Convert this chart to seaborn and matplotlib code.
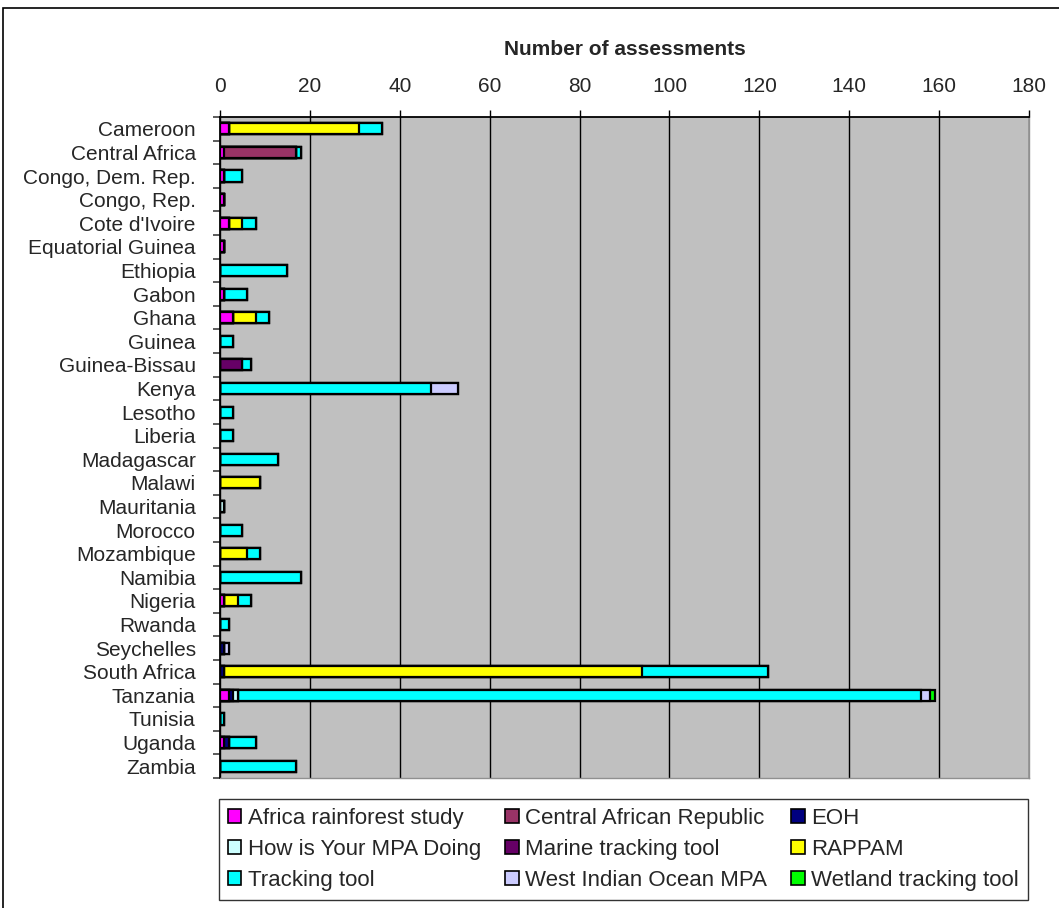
import matplotlib
matplotlib.use("Agg")
import matplotlib.pyplot as plt
from matplotlib.patches import Patch, Rectangle
from matplotlib.ticker import MultipleLocator, FixedLocator
import numpy as np
import seaborn as sns

countries = [
    "Cameroon", "Central Africa", "Congo, Dem. Rep.", "Congo, Rep.", "Cote d'Ivoire",
    "Equatorial Guinea", "Ethiopia", "Gabon", "Ghana", "Guinea", "Guinea-Bissau",
    "Kenya", "Lesotho", "Liberia", "Madagascar", "Malawi", "Mauritania", "Morocco",
    "Mozambique", "Namibia", "Nigeria", "Rwanda", "Seychelles", "South Africa",
    "Tanzania", "Tunisia", "Uganda", "Zambia",
]

methods = [
    "Africa rainforest study", "Central African Republic", "EOH",
    "How is Your MPA Doing", "Marine tracking tool", "RAPPAM",
    "Tracking tool", "West Indian Ocean MPA", "Wetland tracking tool",
]

africa_rainforest = [2, 1, 1, 1, 2, 1, 0, 1, 3, 0, 0, 0, 0, 0, 0, 0, 0, 0, 0, 0, 1, 0, 0, 0, 2, 0, 1, 0]
central_african_rep = [0, 16, 0, 0, 0, 0, 0, 0, 0, 0, 0, 0, 0, 0, 0, 0, 0, 0, 0, 0, 0, 0, 0, 0, 0, 0, 0, 0]
eoh = [0, 0, 0, 0, 0, 0, 0, 0, 0, 0, 0, 0, 0, 0, 0, 0, 0, 0, 0, 0, 0, 0, 1, 1, 1, 0, 1, 0]
how_is_mpa = [0, 0, 0, 0, 0, 0, 0, 0, 0, 0, 0, 0, 0, 0, 0, 0, 1, 0, 0, 0, 0, 0, 0, 0, 1, 0, 0, 0]
marine_tracking = [0, 0, 0, 0, 0, 0, 0, 0, 0, 0, 5, 0, 0, 0, 0, 0, 0, 0, 0, 0, 0, 0, 0, 0, 0, 0, 0, 0]
rappam = [29, 0, 0, 0, 3, 0, 0, 0, 5, 0, 0, 0, 0, 0, 0, 9, 0, 0, 6, 0, 3, 0, 0, 93, 0, 0, 0, 0]
tracking_tool = [5, 1, 4, 0, 3, 0, 15, 5, 3, 3, 2, 47, 3, 3, 13, 0, 0, 5, 3, 18, 3, 2, 0, 28, 152, 1, 6, 17]
wio_mpa = [0, 0, 0, 0, 0, 0, 0, 0, 0, 0, 0, 6, 0, 0, 0, 0, 0, 0, 0, 0, 0, 0, 1, 0, 2, 0, 0, 0]
wetland_tracking = [0, 0, 0, 0, 0, 0, 0, 0, 0, 0, 0, 0, 0, 0, 0, 0, 0, 0, 0, 0, 0, 0, 0, 0, 1, 0, 0, 0]

series = [africa_rainforest, central_african_rep, eoh, how_is_mpa, marine_tracking,
          rappam, tracking_tool, wio_mpa, wetland_tracking]
colors = ["#FF00FF", "#993366", "#000080", "#CCFFFF", "#660066",
          "#FFFF00", "#00FFFF", "#CCCCFF", "#00FF00"]

sns.set_style("white")
plt.rcParams["font.family"] = ["Liberation Sans", "DejaVu Sans"]

fig = plt.figure(figsize=(10.59, 9.08), dpi=100)
ax = fig.add_axes([220 / 1059, 1 - 778 / 908, 809 / 1059, 661 / 908])
ax.set_facecolor("#C0C0C0")

# Stacked bars: draw running totals from the outermost layer inwards
cum = np.cumsum(np.array(series, dtype=float), axis=0)
for i in range(len(series) - 1, -1, -1):
    sns.barplot(x=cum[i], y=countries, orient="h", color=colors[i], saturation=1,
                edgecolor="black", linewidth=1.6, width=0.47, ax=ax, zorder=3)

ax.set_xlim(0, 180)
ax.set_ylim(len(countries) - 0.5, -0.5)
ax.xaxis.set_major_locator(MultipleLocator(20))
ax.xaxis.tick_top()
ax.xaxis.set_label_position("top")
ax.set_xlabel("Number of assessments", fontsize=15, fontweight="bold", labelpad=16)
ax.set_ylabel("")
ax.grid(axis="x", color="black", linewidth=1, zorder=1)
ax.set_axisbelow(True)

ax.tick_params(axis="x", which="major", top=True, bottom=False, direction="out",
               length=5, width=1, color="black", labelsize=15, pad=10)
ax.tick_params(axis="y", which="major", left=False, labelsize=15, pad=14)
ax.yaxis.set_minor_locator(FixedLocator(np.arange(-0.5, len(countries), 1.0)))
ax.tick_params(axis="y", which="minor", left=True, direction="out", length=5,
               width=1.2, color="#404040")

for side in ["top", "left"]:
    ax.spines[side].set_color("black")
    ax.spines[side].set_linewidth(1.3)
for side in ["right", "bottom"]:
    ax.spines[side].set_color("#909090")
    ax.spines[side].set_linewidth(1)

# Legend filled row by row, three columns
handles = [Patch(facecolor=c, edgecolor="black", linewidth=1.2, label=m)
           for m, c in zip(methods, colors)]
order = [0, 3, 6, 1, 4, 7, 2, 5, 8]
leg = fig.legend([handles[k] for k in order], [methods[k] for k in order],
                 ncol=3, loc="lower left",
                 bbox_to_anchor=(219 / 1059, 1 - 900 / 908, 809 / 1059, 103 / 908),
                 mode="expand", fontsize=16, frameon=True, fancybox=False,
                 edgecolor="black", handlelength=0.6, handleheight=0.6,
                 handletextpad=0.3, labelspacing=0.45, borderpad=0.4,
                 columnspacing=0.4, borderaxespad=0)
leg.get_frame().set_linewidth(1)

# Outer chart frame
fig.patches.append(Rectangle((3 / 1059, -0.01), 1.0, 1 - 8 / 908 + 0.01,
                             transform=fig.transFigure, fill=False,
                             edgecolor="black", linewidth=1.2))

fig.savefig("out.png", dpi=100)
